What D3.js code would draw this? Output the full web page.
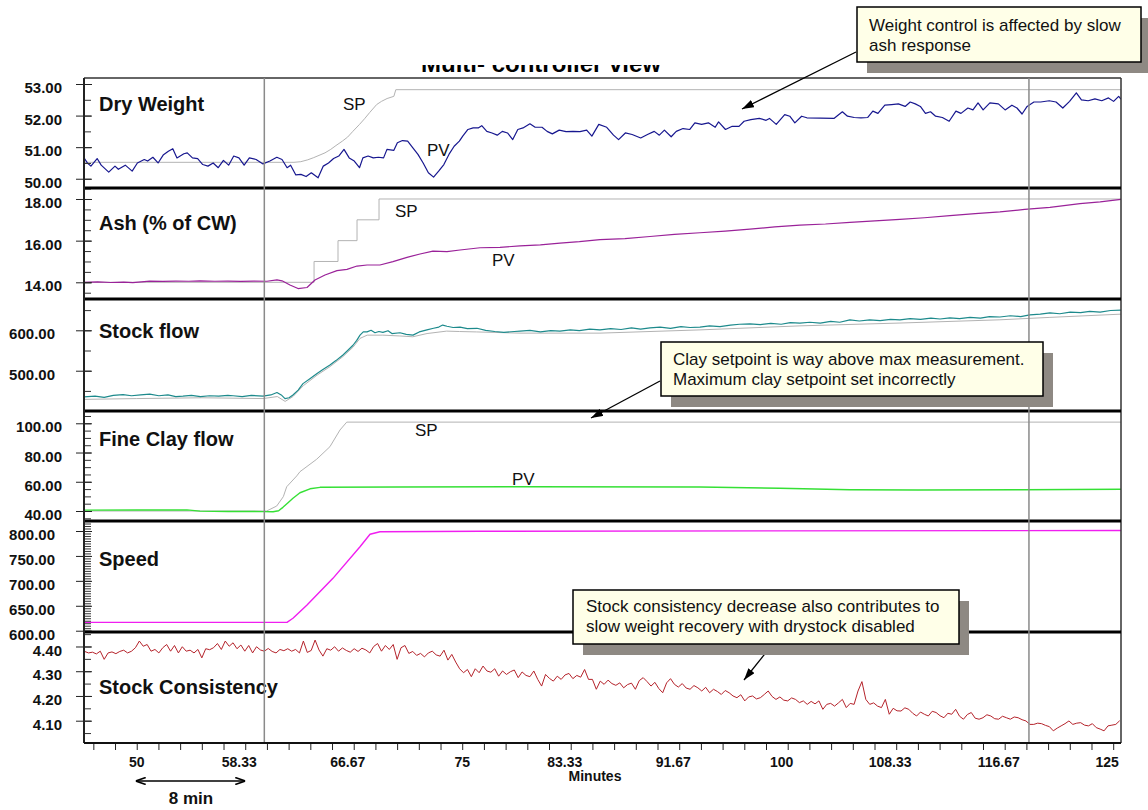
<!DOCTYPE html>
<html>
<head>
<meta charset="utf-8">
<script src="https://cdn.jsdelivr.net/npm/d3@7"></script>
<style>
  body { margin: 0; background: #fff; }
  svg { display: block; }
</style>
</head>
<body>
<svg id="chart" width="1148" height="810"></svg>
<script>
// ---- Trend data (time in minutes) ----
const dryWeightSP = [[45.95,50.52],[62.08,50.52],[62.6,50.54],[63.14,50.6],[63.6,50.67],[64.0,50.74],[64.46,50.82],[64.9,50.93],[65.3,51.05],[65.79,51.19],[66.2,51.32],[66.6,51.5],[67.11,51.72],[67.5,51.9],[67.9,52.1],[68.43,52.35],[68.8,52.45],[69.23,52.54],[69.75,52.61],[69.9,52.82],[125.6,52.82]];

const dryWeightPV = [[45.95,50.66],[46.21,50.50],[46.48,50.40],[46.96,50.64],[47.27,50.43],[47.85,50.21],[48.33,50.40],[48.59,50.30],[49.12,50.43],[49.65,50.24],[50.05,50.50],[50.58,50.61],[50.84,50.56],[51.24,50.68],[51.64,50.50],[52.03,50.75],[52.43,50.87],[52.77,50.95],[53.09,50.66],[53.62,50.79],[53.88,50.82],[54.28,50.66],[54.68,50.64],[55.07,50.45],[55.47,50.40],[55.87,50.50],[56.26,50.35],[56.66,50.58],[57.06,50.43],[57.45,50.72],[57.85,50.66],[58.25,50.43],[58.65,50.66],[59.17,50.61],[59.70,50.47],[60.23,50.56],[60.76,50.68],[61.16,50.61],[61.55,50.35],[61.82,50.43],[62.22,50.12],[62.61,50.14],[63.01,50.07],[63.41,50.19],[63.93,50.03],[64.33,50.40],[64.73,50.50],[65.12,50.64],[65.52,50.72],[65.92,50.93],[66.32,50.66],[66.71,50.56],[67.11,50.35],[67.37,50.66],[67.77,50.72],[68.17,50.66],[68.56,50.68],[68.96,50.66],[69.22,50.93],[69.75,50.90],[70.02,51.14],[70.41,51.21],[70.81,51.19],[71.21,50.98],[71.60,50.77],[72.00,50.50],[72.40,50.19],[72.80,50.05],[73.19,50.24],[73.59,50.45],[73.98,50.77],[74.38,51.03],[74.78,51.19],[75.04,51.35],[75.44,51.56],[75.84,51.61],[76.23,51.61],[76.50,51.68],[76.89,51.50],[77.29,51.45],[77.69,51.38],[78.08,51.50],[78.48,51.45],[78.88,51.24],[79.27,51.56],[79.67,51.61],[80.20,51.74],[80.60,51.63],[81.13,51.63],[81.52,51.50],[81.92,51.42],[82.45,51.54],[82.98,51.49],[83.51,51.50],[84.04,51.49],[84.56,51.54],[84.96,51.35],[85.49,51.72],[86.10,51.63],[86.62,51.38],[87.01,51.24],[87.53,51.45],[88.05,51.40],[88.71,51.29],[89.23,51.40],[89.75,51.50],[90.14,51.38],[90.53,51.54],[91.05,51.33],[91.44,51.50],[91.96,51.59],[92.48,51.56],[92.87,51.77],[93.39,51.72],[93.91,51.77],[94.43,51.63],[94.69,51.80],[95.22,51.56],[95.74,51.66],[96.26,51.66],[96.65,51.82],[97.17,51.87],[97.82,51.91],[98.34,51.85],[98.60,51.91],[99.12,51.72],[99.77,52.03],[100.16,51.98],[100.55,51.77],[101.07,51.98],[101.47,51.93],[103.55,51.91],[104.20,52.12],[104.59,51.98],[105.11,51.94],[105.63,51.93],[106.15,51.94],[106.54,52.14],[106.93,52.07],[107.46,52.33],[107.98,52.35],[108.50,52.37],[109.02,52.29],[109.41,52.43],[109.80,52.37],[110.19,52.29],[110.58,52.07],[110.97,52.12],[111.36,51.98],[111.88,51.94],[112.40,51.82],[112.92,52.14],[113.31,52.07],[113.84,52.24],[114.23,52.18],[114.62,52.40],[115.01,52.18],[115.53,52.40],[116.18,52.37],[116.70,52.18],[117.22,52.33],[117.61,52.24],[118.00,52.05],[118.39,52.29],[118.91,52.43],[119.43,52.43],[120.09,52.47],[120.61,52.43],[121.13,52.24],[121.65,52.45],[122.17,52.72],[122.56,52.50],[123.08,52.47],[123.60,52.53],[124.12,52.47],[124.64,52.56],[125.03,52.45],[125.42,52.61],[125.6,52.52]];

const ashSP = [[45.95,14.0],[63.62,15.0],[65.46,16.0],[66.92,17.0],[68.61,18.0],[125.6,18.0]];

const ashPV = [[45.95,14.0],[47,14.02],[48,13.99],[49,14.01],[49.7,13.98],[51,14.06],[52,14.04],[53,14.06],[54,14.05],[54.86,14.07],[56,14.05],[57,14.06],[58,14.04],[59,14.06],[60,14.05],[60.77,14.12],[61.16,14.07],[61.77,13.87],[62.39,13.7],[63.08,13.75],[63.69,14.11],[64.46,14.35],[65.38,14.56],[66.15,14.62],[66.92,14.78],[67.69,14.83],[68.68,14.83],[69.68,14.99],[70.76,15.2],[71.76,15.36],[72.75,15.5],[73.83,15.47],[74.83,15.55],[76.37,15.66],[77.9,15.68],[79.44,15.75],[81.0,15.8],[82.51,15.88],[84.0,15.95],[85.58,16.05],[87.5,16.1],[89.42,16.2],[91.3,16.3],[93.26,16.38],[95.2,16.46],[97.1,16.55],[99.0,16.66],[100.94,16.75],[102.9,16.8],[104.78,16.88],[106.7,16.95],[108.62,17.02],[110.5,17.1],[112.46,17.2],[114.4,17.3],[116.3,17.38],[118.2,17.5],[120.14,17.6],[122.45,17.78],[124.0,17.86],[125.6,17.98]];

const stockFlowSP = [[45.95,429],[50,431],[55,433],[59.7,431],[60.8,436],[61.4,424],[62.0,436],[62.8,463],[63.85,489],[64.84,510],[65.84,535],[66.61,558],[67.15,580],[67.7,588],[68.9,588],[70.2,586],[71.2,584],[72.3,592],[73.8,598],[74.8,597],[76.1,596],[79.44,593],[85.58,593],[93.26,601],[100.94,611],[108.62,618],[116.3,626],[120.14,632],[125.6,640]];

const stockFlowPV = [[45.95,435],[46.8,437],[47.5,434],[48.2,439],[48.95,441],[49.6,438],[50.3,440],[51.0,442],[51.7,438],[52.4,440],[53.0,436],[53.55,437],[54.2,439],[54.9,436],[55.6,438],[56.3,437],[57.0,439],[57.4,438],[58.1,436],[58.8,439],[59.7,437],[60.3,440],[60.77,446],[61.1,440],[61.39,431],[61.7,433],[62.0,440],[62.4,452],[62.77,468],[63.3,480],[63.85,493],[64.3,503],[64.84,514],[65.3,525],[65.84,539],[66.2,550],[66.61,563],[66.9,575],[67.15,588],[67.4,596],[67.69,596],[68.0,600],[68.3,594],[68.6,597],[68.91,595],[69.3,599],[69.6,592],[70.22,594],[70.7,590],[71.22,588],[71.7,596],[72.29,601],[72.8,605],[73.2,608],[73.5,613],[73.83,610],[74.3,607],[74.83,608],[75.4,604],[76.13,605],[76.8,600],[77.5,597],[78.2,595],[79.0,597],[79.44,598],[80.2,600],[81.0,596],[81.8,599],[82.51,598],[83.3,601],[84.0,599],[84.8,603],[85.58,601],[86.4,604],[87.2,602],[88.0,606],[88.7,603],[89.42,606],[90.2,608],[91.0,605],[91.8,609],[92.5,607],[93.26,608],[94.0,611],[94.8,609],[95.6,613],[96.3,615],[97.1,616],[97.9,614],[98.7,617],[99.5,615],[100.2,619],[100.94,618],[101.7,620],[102.5,618],[103.3,622],[104.0,620],[104.78,626],[105.5,623],[106.3,626],[107.1,624],[107.9,627],[108.62,626],[109.4,629],[110.2,627],[111.0,630],[111.7,628],[112.46,631],[113.2,629],[114.0,632],[114.8,630],[115.5,634],[116.3,633],[117.1,636],[117.9,634],[118.6,638],[119.4,640],[120.14,643],[120.9,641],[121.7,645],[122.5,644],[123.2,647],[124.0,645],[124.8,649],[125.6,650]];

const fineClaySP = [[45.95,40.0],[59.98,40.0],[60.75,43.4],[61.26,49.8],[61.52,56.6],[62.29,64.0],[62.54,66.9],[63.82,75.4],[64.84,84.0],[65.61,95.4],[66.13,100.8],[125.6,100.8]];

const fineClayPV = [[45.95,40.6],[50,40.7],[53.86,40.8],[54.86,39.9],[57,39.7],[59.7,39.6],[60.47,39.5],[60.9,40.2],[61.23,42.5],[61.6,45.5],[62.0,48.7],[62.54,52.5],[63.31,55.2],[64.08,56.2],[70,56.4],[80,56.6],[93.26,56.4],[99.4,55.6],[104.78,54.5],[110,54.4],[118,54.5],[125.6,54.9]];

const speedPV = [[45.95,616.8],[61.54,616.8],[62.0,624.9],[63.08,651.5],[65.07,705],[67.15,768.5],[67.92,793.4],[68.68,798.6],[76.37,799.5],[125.6,801.0]];

// Stock consistency is logged every 0.3 min starting at 46.0 min
const consistencyStart = 46.0;
const consistencyStep = 0.3;
const consistencyPV = [
  4.380,4.374,4.377,4.370,4.381,4.348,4.374,4.378,4.371,4.380,
  4.385,4.374,4.381,4.395,4.422,4.401,4.408,4.381,4.388,4.374,
  4.395,4.408,4.381,4.404,4.374,4.399,4.381,4.385,4.374,4.388,
  4.354,4.391,4.387,4.395,4.412,4.388,4.422,4.401,4.415,4.391,
  4.406,4.381,4.404,4.374,4.399,4.386,4.381,4.392,4.380,4.374,
  4.388,4.383,4.391,4.381,4.388,4.374,4.422,4.376,4.384,4.426,
  4.386,4.361,4.391,4.385,4.399,4.381,4.394,4.384,4.377,4.391,
  4.380,4.393,4.386,4.374,4.400,4.412,4.381,4.404,4.388,4.408,
  4.348,4.395,4.404,4.372,4.380,4.364,4.372,4.358,4.374,4.381,
  4.366,4.361,4.385,4.345,4.368,4.337,4.310,4.294,4.307,4.278,
  4.310,4.294,4.321,4.301,4.296,4.310,4.280,4.301,4.287,4.298,
  4.305,4.274,4.297,4.283,4.278,4.301,4.267,4.240,4.287,4.271,
  4.260,4.280,4.267,4.285,4.291,4.270,4.283,4.276,4.307,4.267,
  4.267,4.227,4.260,4.247,4.264,4.250,4.243,4.253,4.233,4.246,
  4.252,4.227,4.262,4.274,4.258,4.240,4.255,4.230,4.213,4.253,
  4.270,4.247,4.236,4.250,4.232,4.227,4.242,4.233,4.220,4.235,
  4.213,4.227,4.218,4.206,4.222,4.213,4.200,4.193,4.205,4.180,
  4.196,4.200,4.188,4.193,4.206,4.220,4.198,4.186,4.196,4.183,
  4.180,4.192,4.186,4.173,4.180,4.166,4.178,4.168,4.180,4.146,
  4.166,4.170,4.159,4.172,4.186,4.153,4.170,4.166,4.220,4.258,
  4.186,4.166,4.172,4.159,4.153,4.186,4.126,4.150,4.140,4.139,
  4.152,4.146,4.130,4.119,4.135,4.126,4.119,4.138,4.133,4.120,
  4.112,4.130,4.126,4.146,4.118,4.106,4.125,4.133,4.110,4.106,
  4.112,4.124,4.119,4.108,4.106,4.118,4.112,4.106,4.115,4.112,
  4.104,4.099,4.085,4.085,4.090,4.088,4.081,4.076,4.059,4.070,
  4.079,4.088,4.099,4.085,4.090,4.092,4.082,4.079,4.088,4.072,
  4.066,4.059,4.079,4.082,4.085,4.100
];

// Time cursors and x-axis labels
const cursorMinutes = [59.8, 118.53];
const xLabelMinutes = [50, 58.333, 66.667, 75, 83.333, 91.667, 100, 108.333, 116.667, 125];
const xLabelText = ["50", "58.33", "66.67", "75", "83.33", "91.67", "100", "108.33", "116.67", "125"];
const xMinorStep = 1.66667;

const panelTitles = ["Dry Weight", "Ash (% of CW)", "Stock flow", "Fine Clay flow", "Speed", "Stock Consistency"];

// ---- Drawing ----
const FONT = "'Liberation Sans', Arial, Helvetica, sans-serif";
const svg = d3.select("#chart");
const defs = svg.append("defs");
const plotLeft = 84, plotRight = 1121, plotTop = 78, plotBottom = 743;

const x = d3.scaleLinear().domain([45.95, 125.6]).range([plotLeft, plotRight]);

const SPC = "#b3b3b3";
const consistencySeries = consistencyPV.map((v, i) => [consistencyStart + i * consistencyStep, v]);

const panels = [
  { key: "dw", top: 78, bottom: 188, domain: [49.707, 53.19], major: 1, minor: 0.5, pad: 14, titleY: 111,
    series: [[dryWeightSP, SPC, 1], [dryWeightPV, "#17178f", 1.2]],
    tags: [["SP", 343, 110], ["PV", 427, 156]] },
  { key: "ash", top: 188, bottom: 299, domain: [13.198, 18.528], major: 2, minor: 0.5, pad: 14, titleY: 230,
    series: [[ashSP, SPC, 1, d3.curveStepAfter], [ashPV, "#9a2299", 1.2]],
    tags: [["SP", 395, 217], ["PV", 492, 266]] },
  { key: "sf", top: 299, bottom: 411, domain: [400.25, 677.5], major: 100, minor: 50, pad: 21, titleY: 338,
    series: [[stockFlowSP, SPC, 1], [stockFlowPV, "#1d8a8c", 1.2]], tags: [] },
  { key: "fc", top: 411, bottom: 521, domain: [33.16, 108.41], major: 20, minor: 5, pad: 14, titleY: 446,
    series: [[fineClaySP, SPC, 1], [fineClayPV, "#35e035", 1.4]],
    tags: [["SP", 415, 436], ["PV", 512, 485]] },
  { key: "sp", top: 521, bottom: 632, domain: [597.4, 820.06], major: 50, minor: 5, pad: 21, titleY: 566,
    series: [[speedPV, "#f01ef0", 1.4]], tags: [] },
  { key: "sc", top: 632, bottom: 743, domain: [4.0098, 4.4586], major: 0.1, minor: 0.05, pad: 14, titleY: 694,
    series: [[consistencySeries, "#b5232b", 1]], tags: [] }
];

function stepTicks(lo, hi, step) {
  const out = [];
  const a = Math.ceil(lo / step - 1e-9), b = Math.floor(hi / step + 1e-9);
  for (let k = a; k <= b; k++) out.push(+(k * step).toFixed(6));
  return out;
}

// Title (upper part hidden under the header strip)
defs.append("clipPath").attr("id", "titleClip")
  .append("rect").attr("x", 0).attr("y", 65).attr("width", 1148).attr("height", 20);
svg.append("text")
  .attr("clip-path", "url(#titleClip)")
  .attr("x", 421).attr("y", 72)
  .style("font-family", FONT).style("font-weight", "bold").style("font-size", "24px")
  .text("Multi- controller view");

panels.forEach((p, i) => {
  const y = d3.scaleLinear().domain(p.domain).range([p.bottom, p.top]);
  const g = svg.append("g");

  defs.append("clipPath").attr("id", "clip-" + p.key)
    .append("rect").attr("x", plotLeft).attr("y", p.top)
    .attr("width", plotRight - plotLeft).attr("height", p.bottom - p.top);

  // panel title
  g.append("text").attr("x", 99).attr("y", p.titleY)
    .style("font-family", FONT).style("font-weight", "bold").style("font-size", "20px")
    .attr("fill", "#111").text(panelTitles[i]);

  const lines = g.append("g").attr("clip-path", `url(#clip-${p.key})`);
  p.series.forEach(([data, color, w, curve]) => {
    const gen = d3.line().x(d => x(d[0])).y(d => y(d[1]));
    if (curve) gen.curve(curve);
    lines.append("path").datum(data).attr("d", gen)
      .attr("fill", "none").attr("stroke", color).attr("stroke-width", w)
      .attr("stroke-linejoin", "round");
  });

  p.tags.forEach(([t, tx, ty]) => {
    g.append("text").attr("x", tx).attr("y", ty)
      .style("font-family", FONT).style("font-size", "17px").attr("fill", "#111").text(t);
  });

  // minor ticks (inside)
  const minors = stepTicks(p.domain[0], p.domain[1], p.minor);
  g.append("g").attr("transform", `translate(${plotLeft},0)`)
    .call(d3.axisLeft(y).tickValues(minors).tickSize(-7).tickFormat(""))
    .call(a => a.select(".domain").remove())
    .attr("color", "#333");

  // major ticks crossing the axis, with labels
  const majors = stepTicks(p.domain[0], p.domain[1], p.major);
  const ax = g.append("g").attr("transform", `translate(${plotLeft},0)`)
    .call(d3.axisLeft(y).tickValues(majors).tickSize(8).tickPadding(p.pad).tickFormat(d3.format(".2f")))
    .attr("color", "#222");
  ax.select(".domain").remove();
  ax.selectAll(".tick line").attr("x1", 8).attr("x2", -8);
  ax.selectAll(".tick text").attr("dy", "0.57em")
    .style("font-family", FONT).style("font-weight", "bold").style("font-size", "15px")
    .attr("fill", "#111");
});

// frame and separators
svg.append("line").attr("x1", plotLeft).attr("x2", plotRight).attr("y1", plotTop).attr("y2", plotTop)
  .attr("stroke", "#333").attr("stroke-width", 1.5);
svg.append("line").attr("x1", plotRight).attr("x2", plotRight).attr("y1", plotTop).attr("y2", plotBottom)
  .attr("stroke", "#333").attr("stroke-width", 1.5);
panels.slice(1).forEach(p => {
  svg.append("line").attr("x1", plotLeft).attr("x2", plotRight).attr("y1", p.top).attr("y2", p.top)
    .attr("stroke", "#000").attr("stroke-width", 3);
});

// time cursors
cursorMinutes.forEach(m => {
  svg.append("line").attr("x1", x(m)).attr("x2", x(m)).attr("y1", plotTop).attr("y2", plotBottom)
    .attr("stroke", "#8a8a8a").attr("stroke-width", 1.5);
});

// left axis line
svg.append("line").attr("x1", plotLeft).attr("x2", plotLeft).attr("y1", plotTop).attr("y2", plotBottom)
  .attr("stroke", "#222").attr("stroke-width", 2);

// x axis
const xTicks = stepTicks(46.6, 125.2, xMinorStep);
svg.append("g").attr("transform", `translate(0,${plotBottom})`)
  .call(d3.axisBottom(x).tickValues(xTicks).tickSize(7).tickFormat(""))
  .call(a => a.select(".domain").remove())
  .attr("color", "#222");
svg.append("line").attr("x1", plotLeft).attr("x2", plotRight).attr("y1", plotBottom).attr("y2", plotBottom)
  .attr("stroke", "#111").attr("stroke-width", 2);
svg.append("g").selectAll("text").data(xLabelMinutes).join("text")
  .attr("x", (d, i) => x(d) + (xLabelText[i].length > 2 ? -6 : 0))
  .attr("y", 767).attr("text-anchor", "middle")
  .style("font-family", FONT).style("font-weight", "bold").style("font-size", "14px")
  .attr("fill", "#111")
  .text((d, i) => xLabelText[i]);
svg.append("text").attr("x", 595).attr("y", 781).attr("text-anchor", "middle")
  .style("font-family", FONT).style("font-weight", "bold").style("font-size", "14px")
  .attr("fill", "#111").text("Minutes");

// arrow markers
defs.append("marker").attr("id", "head").attr("viewBox", "0 0 12 8")
  .attr("refX", 12).attr("refY", 4).attr("markerWidth", 12).attr("markerHeight", 8)
  .attr("markerUnits", "userSpaceOnUse").attr("orient", "auto")
  .append("path").attr("d", "M0,0 L12,4 L0,8 Z").attr("fill", "#000");
defs.append("marker").attr("id", "spanHead").attr("viewBox", "0 0 10 8")
  .attr("refX", 10).attr("refY", 4).attr("markerWidth", 10).attr("markerHeight", 8)
  .attr("markerUnits", "userSpaceOnUse").attr("orient", "auto-start-reverse")
  .append("path").attr("d", "M0,0.5 L10,4 L0,7.5").attr("fill", "none")
  .attr("stroke", "#000").attr("stroke-width", 1.6);

// 8 minute span marker
svg.append("line").attr("x1", x(50) - 1).attr("x2", x(58.333)).attr("y1", 781).attr("y2", 781)
  .attr("stroke", "#000").attr("stroke-width", 1.5)
  .attr("marker-start", "url(#spanHead)").attr("marker-end", "url(#spanHead)");
svg.append("text").attr("x", (x(50) + x(58.333)) / 2).attr("y", 804).attr("text-anchor", "middle")
  .style("font-family", FONT).style("font-weight", "bold").style("font-size", "17px")
  .attr("fill", "#111").text("8 min");

// callout notes
const notes = [
  { box: [857, 7, 284, 55], lines: ["Weight control is affected by slow", "ash response"], text: [869, 31],
    arrow: [856, 52, 742, 109] },
  { box: [661, 342, 382, 54], lines: ["Clay setpoint is way above max measurement.", "Maximum clay setpoint set incorrectly"], text: [673, 365],
    arrow: [660, 381, 591, 418] },
  { box: [573, 590, 386, 54], lines: ["Stock consistency decrease also contributes to", "slow weight recovery with drystock disabled"], text: [586, 612],
    arrow: [772, 645, 744, 680] }
];
notes.forEach(n => {
  const [bx, by, bw, bh] = n.box;
  const g = svg.append("g");
  g.append("line").attr("x1", n.arrow[0]).attr("y1", n.arrow[1]).attr("x2", n.arrow[2]).attr("y2", n.arrow[3])
    .attr("stroke", "#000").attr("stroke-width", 1.3).attr("marker-end", "url(#head)");
  g.append("rect").attr("x", bx + 10).attr("y", by + 11).attr("width", bw).attr("height", bh)
    .attr("fill", "#8e8983");
  g.append("rect").attr("x", bx).attr("y", by).attr("width", bw).attr("height", bh)
    .attr("fill", "#ffffe8").attr("stroke", "#000").attr("stroke-width", 1.5);
  n.lines.forEach((t, i) => {
    g.append("text").attr("x", n.text[0]).attr("y", n.text[1] + i * 20)
      .style("font-family", FONT).style("font-size", "17px").attr("fill", "#111").text(t);
  });
});
</script>
</body>
</html>
